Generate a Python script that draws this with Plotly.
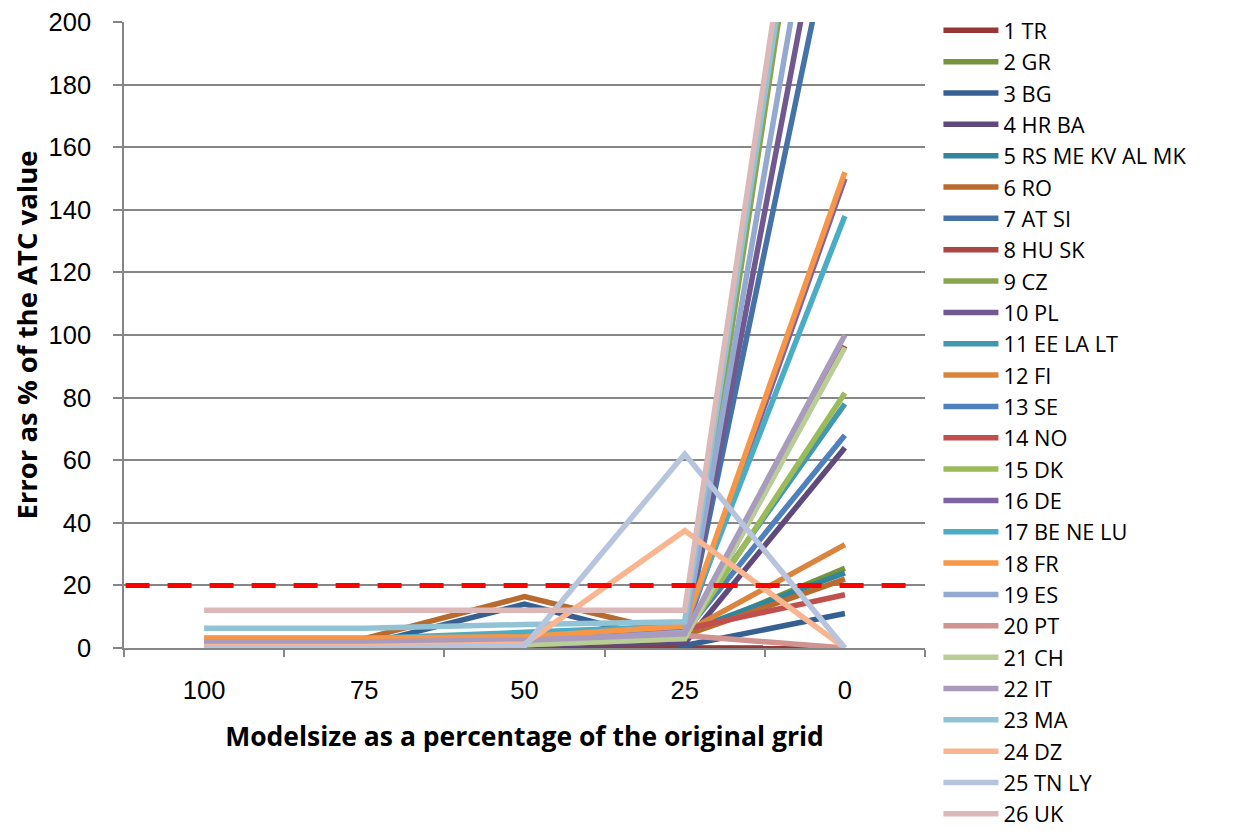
import plotly.graph_objects as go

categories = ["100", "75", "50", "25", "0"]

names = ["1 TR", "2 GR", "3 BG", "4 HR BA", "5 RS ME KV AL MK", "6 RO", "7 AT SI",
         "8 HU SK", "9 CZ", "10 PL", "11 EE LA LT", "12 FI", "13 SE", "14 NO",
         "15 DK", "16 DE", "17 BE NE LU", "18 FR", "19 ES", "20 PT", "21 CH",
         "22 IT", "23 MA", "24 DZ", "25 TN LY", "26 UK"]

tr = [0.2, 0.2, 0.2, 0.2, 0]
gr = [1.5, 1.5, 2, 4, 25.5]
bg = [1, 1, 14, 0.8, 11]
hr_ba = [0.8, 0.8, 1, 1.5, 64]
rs = [2, 2, 4.5, 5, 24]
ro = [3, 3, 16.4, 4, 22]
at_si = [1, 1, 2, 4, 250]
hu_sk = [0.5, 0.5, 1, 3, 96.5]
cz = [0.5, 0.5, 1, 3, 340]
pl = [1, 1, 2, 4, 275]
ee = [2, 2, 4, 6, 78]
fi = [2.5, 2.5, 3, 5, 33]
se = [1.5, 1.5, 3, 5, 68]
no = [1, 1, 2, 6, 17]
dk = [1, 1, 2, 4, 81.5]
de = [2, 2, 3, 5, 150]
be = [3, 3, 5, 7, 138]
fr = [3.1, 3.1, 3.6, 7, 152]
es = [1, 1, 2, 5, 300]
pt = [2, 2, 2.5, 4, 0]
ch = [0.5, 0.5, 1, 3, 96]
it = [1.8, 1.8, 2.5, 4.5, 100]
ma = [6.3, 6.3, 7.5, 8.4, 345]
dz = [0.5, 0.5, 1.3, 37.5, 0]
tn_ly = [0, 0, 0.6, 62, 0]
uk = [12.1, 12.1, 12.1, 12.1, 354]

series = [tr, gr, bg, hr_ba, rs, ro, at_si, hu_sk, cz, pl, ee, fi, se, no,
          dk, de, be, fr, es, pt, ch, it, ma, dz, tn_ly, uk]

colors = ["#953735", "#77933C", "#376092", "#604A7B", "#31859C", "#B96A2F",
          "#4572A7", "#AA4643", "#89A54E", "#71588F", "#4198AF", "#DB843D",
          "#4F81BD", "#C0504D", "#9BBB59", "#8064A2", "#4BACC6", "#F79646",
          "#93A9CF", "#D19392", "#B9CD96", "#A99BBD", "#91C3D5", "#F9B590",
          "#B7C4DD", "#DDB8B8"]

threshold = 20

fig = go.Figure()
for name, vals, col in zip(names, series, colors):
    fig.add_trace(go.Scatter(x=categories, y=vals, name=name, mode="lines",
                             line=dict(color=col, width=5.5)))

fig.add_shape(type="line", xref="paper", yref="y", x0=0.002, x1=0.977,
              y0=threshold, y1=threshold,
              line=dict(color="#FF0000", width=5, dash="24px,18px"))

font_family = "Open Sans, Liberation Sans, sans-serif"
tick_family = "Liberation Sans, Arial, sans-serif"

fig.update_layout(
    width=1234, height=831,
    margin=dict(l=116, r=317, t=14, b=191, autoexpand=False),
    paper_bgcolor="white", plot_bgcolor="white",
    font=dict(family=font_family, color="black"),
    showlegend=True,
    legend=dict(xref="container", yref="container", x=0.754, y=0.998,
                xanchor="left", yanchor="top", maxheight=1,
                font=dict(size=21.8, family=font_family, color="black"),
                tracegroupgap=0, itemwidth=55, bgcolor="rgba(0,0,0,0)"),
    xaxis=dict(type="category", range=[-0.5, 4.5], showgrid=False,
               showline=True, linecolor="#868686", linewidth=1.5,
               ticks="outside", tickson="boundaries", ticklen=7,
               tickcolor="#868686", tickwidth=1.5, automargin=False,
               tickfont=dict(size=25.5, family=tick_family), ticklabelstandoff=19,
               ticklabeloverflow="allow",
               title=dict(text="<b>Modelsize as a percentage of the original grid</b>",
                          font=dict(size=26.5), standoff=24),
               zeroline=False),
    yaxis=dict(range=[0, 200], dtick=20, showgrid=True, gridcolor="#868686",
               gridwidth=1.5, showline=True, linecolor="#868686", linewidth=1.5,
               ticks="outside", ticklen=9, tickcolor="#868686", tickwidth=1.5,
               automargin=False, ticklabeloverflow="allow",
               tickfont=dict(size=25.5, family=tick_family), ticklabelstandoff=17,
               title=dict(text="<b>Error as % of the ATC value</b>",
                          font=dict(size=27.5), standoff=16),
               zeroline=False),
)

fig.write_html("out.html")
